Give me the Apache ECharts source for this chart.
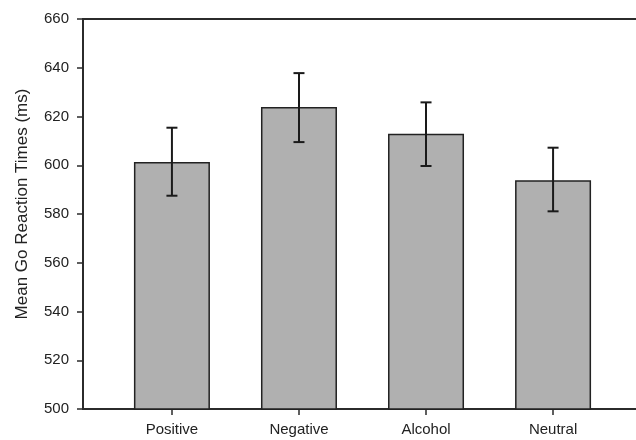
<!DOCTYPE html>
<html>
<head>
<meta charset="utf-8">
<script src="https://cdn.jsdelivr.net/npm/echarts@6/dist/echarts.min.js"></script>
<style>
  html, body { margin: 0; padding: 0; background: #fff; }
  #chart { width: 636px; height: 440px; }
</style>
</head>
<body>
<div id="chart"></div>
<script>
  // 类别与数值
  const categories = ['Positive', 'Negative', 'Alcohol', 'Neutral']
  const means = [601.3, 623.9, 612.9, 593.8]
  const errLow = [587.5, 609.5, 599.7, 581.1]
  const errHigh = [615.4, 637.8, 625.8, 607.2]
  const yTicks = [500, 520, 540, 560, 580, 600, 620, 640, 660]

  const positions = categories.map((c, i) => i + 1)
  const textColor = '#222'
  const lineColor = '#2b2b2b'
  const font = 'Liberation Sans, Arial, sans-serif'

  const chart = echarts.init(document.getElementById('chart'))

  const option = {
    animation: false,
    grid: {
      left: 83,
      top: 19,
      width: 559,
      height: 390,
      outerBoundsMode: 'none',
      show: true,
      borderColor: lineColor,
      borderWidth: 2,
      backgroundColor: 'transparent'
    },
    xAxis: {
      type: 'value',
      min: 0.3,
      max: 4.7,
      splitLine: { show: false },
      axisLine: { show: true, onZero: false, lineStyle: { color: lineColor, width: 2 } },
      axisTick: {
        show: true,
        customValues: positions,
        length: 6,
        lineStyle: { color: lineColor, width: 1.5 }
      },
      axisLabel: {
        customValues: positions,
        margin: 13,
        color: textColor,
        fontFamily: font,
        fontSize: 15,
        formatter: function (v) {
          return categories[Math.round(v) - 1] || ''
        }
      }
    },
    yAxis: {
      type: 'value',
      min: yTicks[0],
      max: yTicks[yTicks.length - 1],
      interval: 20,
      name: 'Mean Go Reaction Times (ms)',
      nameLocation: 'middle',
      nameGap: 52,
      nameTextStyle: {
        color: textColor,
        fontFamily: font,
        fontSize: 17,
        padding: [0, 0, 0, 20]
      },
      splitLine: { show: false },
      axisLine: { show: true, lineStyle: { color: lineColor, width: 2 } },
      axisTick: { show: true, length: 6, lineStyle: { color: lineColor, width: 1.5 } },
      axisLabel: {
        margin: 14,
        color: textColor,
        fontFamily: font,
        fontSize: 15
      }
    },
    series: [
      {
        type: 'bar',
        barWidth: 76,
        data: positions.map((p, i) => [p, means[i]]),
        itemStyle: {
          color: '#b0b0b0',
          borderColor: '#222',
          borderWidth: 1.5
        }
      },
      {
        type: 'custom',
        data: positions.map((p, i) => [p, errLow[i], errHigh[i]]),
        z: 10,
        renderItem: function (params, api) {
          const x = api.value(0)
          const lo = api.coord([x, api.value(1)])
          const hi = api.coord([x, api.value(2)])
          const half = 5.5
          const style = { stroke: '#1a1a1a', lineWidth: 2 }
          return {
            type: 'group',
            children: [
              { type: 'line', shape: { x1: hi[0], y1: hi[1], x2: lo[0], y2: lo[1] }, style: style },
              { type: 'line', shape: { x1: hi[0] - half, y1: hi[1], x2: hi[0] + half, y2: hi[1] }, style: style },
              { type: 'line', shape: { x1: lo[0] - half, y1: lo[1], x2: lo[0] + half, y2: lo[1] }, style: style }
            ]
          }
        }
      }
    ]
  }

  chart.setOption(option)
</script>
</body>
</html>
